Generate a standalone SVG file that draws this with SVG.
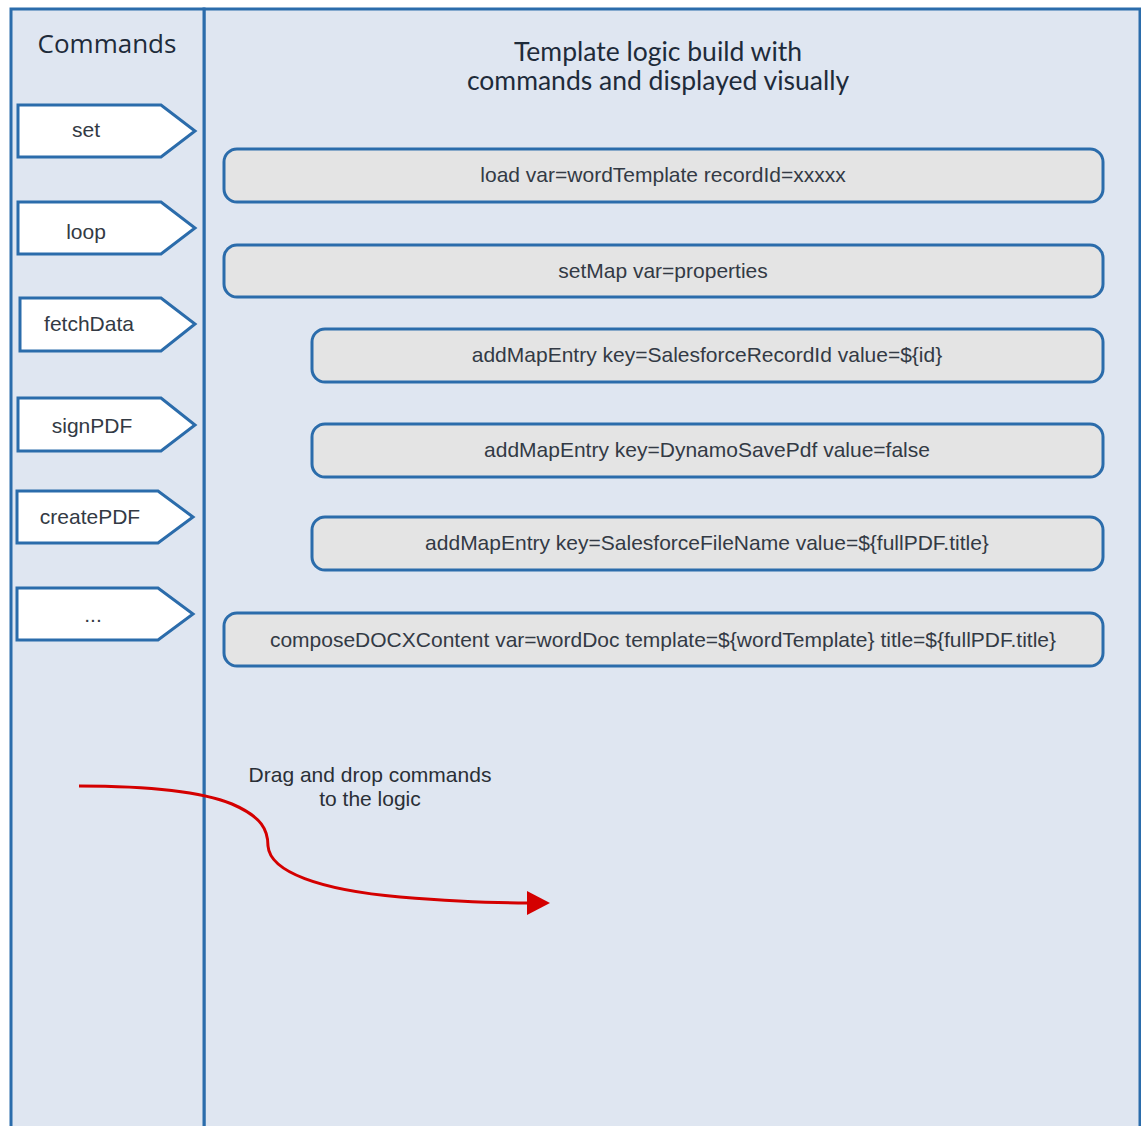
<svg xmlns="http://www.w3.org/2000/svg" width="1141" height="1126" viewBox="0 0 1141 1126">
  <style>
    .panel { fill: #dfe6f1; stroke: #2b6cab; stroke-width: 3; }
    .cmd { fill: #ffffff; stroke: #2b6cab; stroke-width: 3; stroke-linejoin: miter; }
    .step { fill: #e4e4e4; stroke: #2b6cab; stroke-width: 3; }
    .lbl { font-family: "Liberation Sans", Arial, sans-serif; font-size: 21px; fill: #333a44; text-anchor: middle; }
    .head { font-family: "Open Sans", sans-serif; font-size: 26px; fill: #1e2b3a; text-anchor: middle; }
    .title { font-family: Lato, sans-serif; font-size: 26.5px; fill: #1e2b3a; text-anchor: middle; }
    .note { font-family: "Liberation Sans", Arial, sans-serif; font-size: 21px; fill: #2a2f36; text-anchor: middle; }
    .drag { fill: none; stroke: #d40000; stroke-width: 3; }
  </style>

  <rect width="1141" height="1126" fill="#ffffff"/>

  <!-- panels -->
  <g id="logic-panel">
    <rect class="panel" x="204" y="9" width="936" height="1130"/>
    <text class="title" x="658" y="61">Template logic build with</text>
    <text class="title" x="658" y="90">commands and displayed visually</text>
  </g>
  <g id="commands-panel">
    <rect class="panel" x="11" y="9" width="193" height="1130"/>
    <text class="head" x="107" y="53">Commands</text>
  </g>

  <!-- command palette -->
  <g id="cmd-set">
    <path class="cmd" d="M18,105 H161 L195,131 L161,157 H18 Z"/>
    <text class="lbl" x="86" y="137">set</text>
  </g>
  <g id="cmd-loop">
    <path class="cmd" d="M18,202 H161 L195,228 L161,254 H18 Z"/>
    <text class="lbl" x="86" y="239">loop</text>
  </g>
  <g id="cmd-fetchData">
    <path class="cmd" d="M20,298 H161 L195,324 L161,351 H20 Z"/>
    <text class="lbl" x="89" y="331">fetchData</text>
  </g>
  <g id="cmd-signPDF">
    <path class="cmd" d="M18,398 H161 L195,425 L161,451 H18 Z"/>
    <text class="lbl" x="92" y="433">signPDF</text>
  </g>
  <g id="cmd-createPDF">
    <path class="cmd" d="M17,491 H158 L193,517 L158,543 H17 Z"/>
    <text class="lbl" x="90" y="524">createPDF</text>
  </g>
  <g id="cmd-more">
    <path class="cmd" d="M17,588 H158 L193,614 L158,640 H17 Z"/>
    <text class="lbl" x="93" y="622">...</text>
  </g>

  <!-- template logic steps -->
  <g id="step-load">
    <rect class="step" x="224" y="149" width="879" height="53" rx="13"/>
    <text class="lbl" x="663" y="182">load var=wordTemplate recordId=xxxxx</text>
  </g>
  <g id="step-setMap">
    <rect class="step" x="224" y="245" width="879" height="52" rx="13"/>
    <text class="lbl" x="663" y="278">setMap var=properties</text>
  </g>
  <g id="step-entry-id">
    <rect class="step" x="312" y="329" width="791" height="53" rx="13"/>
    <text class="lbl" x="707" y="362">addMapEntry key=SalesforceRecordId value=${id}</text>
  </g>
  <g id="step-entry-save">
    <rect class="step" x="312" y="424" width="791" height="53" rx="13"/>
    <text class="lbl" x="707" y="457">addMapEntry key=DynamoSavePdf value=false</text>
  </g>
  <g id="step-entry-name">
    <rect class="step" x="312" y="517" width="791" height="53" rx="13"/>
    <text class="lbl" x="707" y="550">addMapEntry key=SalesforceFileName value=${fullPDF.title}</text>
  </g>
  <g id="step-compose">
    <rect class="step" x="224" y="613" width="879" height="53" rx="13"/>
    <text class="lbl" x="663" y="647">composeDOCXContent var=wordDoc template=${wordTemplate} title=${fullPDF.title}</text>
  </g>

  <!-- drag hint -->
  <g id="connectors">
    <path class="drag" d="M79,786 C150,786 200,791 232,804 C262,817 268,830 268,846 C270,872 320,890 400,897 C450,901 495,903 528,903"/>
    <path d="M527,891 L550,903 L527,915 Z" fill="#d40000"/>
  </g>
  <g id="drag-note">
    <text class="note" x="370" y="782">Drag and drop commands</text>
    <text class="note" x="370" y="806">to the logic</text>
  </g>
</svg>
